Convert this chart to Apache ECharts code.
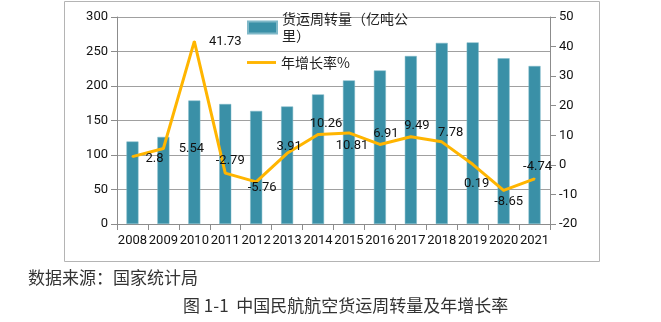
<!DOCTYPE html>
<html>
<head>
<meta charset="utf-8">
<script src="https://cdn.jsdelivr.net/npm/echarts@6/dist/echarts.min.js"></script>
<style>
html,body{margin:0;padding:0;background:#fff;}
#c{width:661px;height:322px;}
</style>
</head>
<body>
<div id="c"></div>
<script>
// ---- data ----
var years = ['2008','2009','2010','2011','2012','2013','2014','2015','2016','2017','2018','2019','2020','2021'];
var turnover = [119.5, 126.2, 178.9, 173.9, 163.9, 170.3, 187.8, 208.1, 222.5, 243.5, 262.5, 263.2, 240.2, 229];
var growth = [2.8, 5.54, 41.73, -2.79, -5.76, 3.91, 10.26, 10.81, 6.91, 9.49, 7.78, 0.19, -8.65, -4.74];
var leftTicks = [0, 50, 100, 150, 200, 250, 300];
var rightTicks = [-20, -10, 0, 10, 20, 30, 40, 50];
var barName = '货运周转量（亿吨公里）';
var lineName = '年增长率%';
var sourceText = '数据来源：国家统计局';
var captionText = '图 1-1  中国民航航空货运周转量及年增长率';

// ---- styles ----
var labelOffsets = [[22,2],[28,0],[31,0],[5,-12],[6,6],[2,-7],[8,-11],[3,13],[6,-11],[6,-11],[9,-9],[4,19],[5,11],[3,-12]];
var barColor = '#3A90A7';
var lineColor = '#FFB500';
var axisColor = '#8c8c8c';
var font = 'Roboto';

var chart = echarts.init(document.getElementById('c'), null, {renderer: 'canvas'});
var lineData = growth.map(function (v, i) {
  return {value: v, label: {offset: labelOffsets[i]}};
});
chart.setOption({
  animation: false,
  backgroundColor: '#fff',
  grid: {left: 117, right: 111, top: 17, bottom: 98, containLabel: false},
  legend: [{
    data: [{name: barName, icon: 'rect'}],
    left: 247, top: 2, padding: 0,
    itemWidth: 29, itemHeight: 12,
    formatter: function () { return '货运周转量（亿吨公\n里）'; },
    textStyle: {fontFamily: 'Noto Sans CJK SC', fontSize: 14, color: '#222', lineHeight: 17, padding: [17, 0, 0, 0]}
  }, {
    data: [{name: lineName, icon: 'path://M0,0L30,0L30,3L0,3Z'}],
    left: 247, top: 54, padding: 0,
    itemWidth: 29, itemHeight: 12,
    textStyle: {fontFamily: 'Noto Sans CJK SC', fontSize: 14, color: '#222', lineHeight: 17}
  }],
  xAxis: {
    type: 'category',
    data: years,
    axisLine: {lineStyle: {color: axisColor}},
    axisTick: {show: true, length: 6, lineStyle: {color: axisColor}},
    axisLabel: {interval: 0, fontFamily: font, fontSize: 13, color: '#111', margin: 10}
  },
  yAxis: [{
    type: 'value', min: leftTicks[0], max: leftTicks[leftTicks.length - 1], interval: 50,
    axisLine: {show: true, lineStyle: {color: axisColor}},
    axisTick: {show: true, length: 6, lineStyle: {color: axisColor}},
    axisLabel: {fontFamily: font, fontSize: 13, color: '#111', margin: 9},
    splitLine: {lineStyle: {color: '#a0a0a0'}}
  }, {
    type: 'value', min: rightTicks[0], max: rightTicks[rightTicks.length - 1], interval: 10,
    axisLine: {show: true, lineStyle: {color: axisColor}},
    axisTick: {show: true, length: 6, lineStyle: {color: axisColor}},
    axisLabel: {fontFamily: font, fontSize: 13, color: '#111', margin: 9},
    splitLine: {show: false}
  }],
  series: [{
    name: barName,
    type: 'bar',
    data: turnover,
    barWidth: 12,
    itemStyle: {color: barColor, borderColor: '#7fb8c8', borderWidth: 0.5},
    z: 2
  }, {
    name: lineName,
    type: 'line',
    yAxisIndex: 1,
    data: lineData,
    symbol: 'circle',
    symbolSize: 2,
    showSymbol: true,
    itemStyle: {color: lineColor},
    lineStyle: {color: lineColor, width: 3},
    label: {show: true, position: 'inside', fontFamily: font, fontSize: 13, color: '#111'},
    z: 3
  }],
  graphic: [{
    type: 'rect', silent: true, z: -1,
    shape: {x: 64.5, y: 1.5, width: 535, height: 260},
    style: {fill: 'none', stroke: '#b4b4b4', lineWidth: 1}
  }, {
    type: 'text', left: 28, top: 269,
    style: {text: sourceText, font: '17px "Noto Sans CJK SC"', fill: '#333'}
  }, {
    type: 'text', left: 183, top: 297,
    style: {text: captionText, font: '17px "Noto Sans CJK SC"', fill: '#333'}
  }]
});
</script>
</body>
</html>
